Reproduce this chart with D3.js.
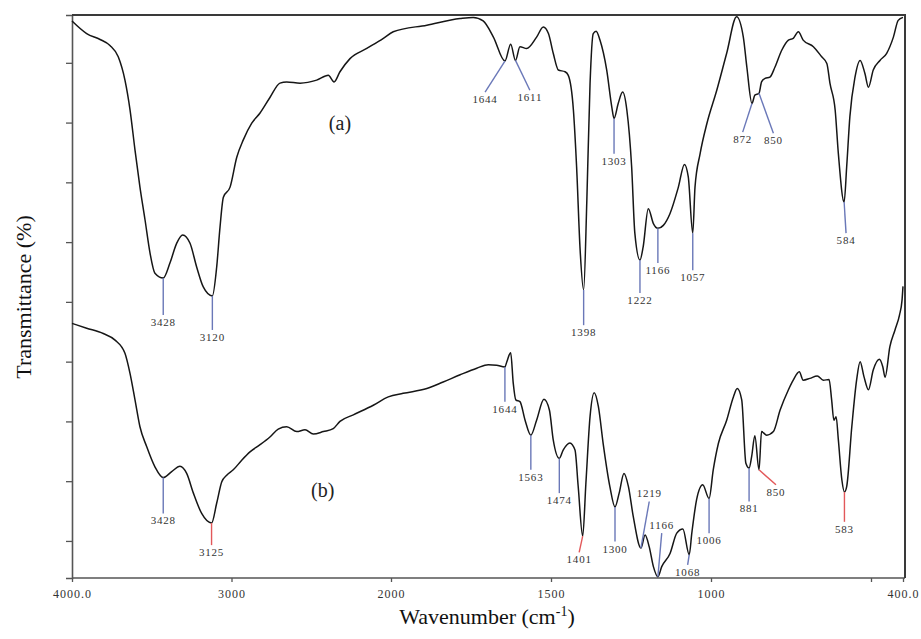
<!DOCTYPE html>
<html>
<head>
<meta charset="utf-8">
<script src="https://cdn.jsdelivr.net/npm/d3@7"></script>
<style>
  body { margin: 0; background: #fff; }
  svg { display: block; }
</style>
</head>
<body>
<svg id="chart"></svg>
<script>
// spectrum (a): [wavenumber cm-1, transmittance]
const specA = [
  [4000,97.0],[3908,94.9],[3824,93.9],[3762,92.9],[3710,91.0],[3668,87.1],[3636,82.1],[3605,75.4],
  [3574,69.2],[3542,63.7],[3511,58.2],[3480,54.8],[3428,54.0],[3386,56.5],[3344,59.8],[3306,61.2],
  [3260,59.8],[3218,55.8],[3177,52.5],[3120,51.0],[3093,55.8],[3072,62.5],[3051,67.5],[3009,69.2],
  [2967,74.2],[2926,77.1],[2873,79.9],[2821,81.6],[2759,84.2],[2696,86.6],[2654,86.8],[2570,86.6],
  [2466,87.1],[2393,87.9],[2357,86.8],[2320,88.5],[2257,90.7],[2152,92.4],[2048,94.1],[1993,95.2],
  [1888,96.3],[1784,97.4],[1743,97.6],[1712,97.0],[1680,94.3],[1644,90.3],[1626,93.1],[1611,90.4],
  [1597,92.7],[1576,92.4],[1545,94.3],[1524,96.0],[1508,94.9],[1493,91.6],[1477,88.8],[1456,88.5],
  [1446,87.9],[1430,82.1],[1420,72.6],[1409,58.7],[1398,52.0],[1388,67.0],[1378,86.5],[1368,94.9],
  [1359,95.3],[1347,93.8],[1326,88.8],[1310,82.6],[1303,80.7],[1290,83.2],[1276,85.1],[1263,82.1],
  [1248,72.6],[1238,61.5],[1222,57.0],[1212,59.2],[1196,65.6],[1180,63.1],[1166,62.3],[1149,62.8],
  [1128,64.8],[1102,69.2],[1083,73.0],[1071,70.9],[1057,61.5],[1050,69.2],[1034,74.8],[1013,79.8],
  [982,85.4],[951,91.6],[920,97.7],[899,94.3],[888,89.3],[872,83.2],[863,84.6],[850,84.9],
  [842,86.8],[831,87.4],[816,87.6],[800,89.3],[779,92.1],[758,93.8],[743,94.1],[727,95.2],
  [712,93.8],[680,92.7],[654,91.0],[638,89.9],[628,86.5],[612,82.1],[602,74.8],[584,66.7],
  [576,72.6],[566,81.0],[550,87.6],[534,90.4],[519,88.2],[508,85.9],[493,88.8],[472,90.4],
  [451,91.6],[430,94.3],[415,97.1],[400,97.6]
];

// spectrum (b)
const specB = [
  [4000,46.4],[3908,45.6],[3804,44.7],[3730,43.6],[3668,41.4],[3636,38.0],[3605,33.6],[3574,29.1],
  [3532,25.8],[3480,22.4],[3428,20.6],[3375,21.6],[3323,22.5],[3281,21.3],[3239,18.0],[3187,14.6],
  [3125,13.0],[3093,16.3],[3061,19.9],[3030,21.0],[2989,21.9],[2936,23.5],[2884,24.9],[2821,26.1],
  [2759,27.4],[2707,28.7],[2654,29.1],[2591,28.3],[2539,28.6],[2487,27.9],[2424,28.3],[2362,28.8],
  [2320,30.0],[2236,31.1],[2111,32.7],[2017,34.1],[1962,34.7],[1888,35.5],[1837,36.6],[1784,37.8],
  [1732,38.9],[1696,39.5],[1670,39.4],[1644,39.1],[1638,40.0],[1626,41.5],[1618,36.4],[1610,33.6],
  [1597,33.3],[1581,30.2],[1563,27.7],[1545,30.2],[1522,33.7],[1505,31.9],[1493,26.9],[1474,23.8],
  [1462,25.2],[1441,26.4],[1425,25.2],[1415,19.1],[1401,10.8],[1391,19.6],[1378,30.8],[1365,34.8],
  [1352,32.5],[1337,26.3],[1316,19.1],[1300,15.7],[1287,18.0],[1272,21.3],[1258,19.1],[1243,14.1],
  [1219,8.8],[1206,11.0],[1193,9.0],[1180,5.7],[1166,4.0],[1154,5.7],[1128,7.9],[1107,11.3],
  [1088,12.0],[1068,7.7],[1060,11.3],[1045,16.9],[1026,19.4],[1006,17.1],[993,21.9],[977,26.3],
  [951,30.2],[930,34.1],[918,35.5],[904,33.6],[891,23.0],[881,22.2],[873,24.1],[863,27.6],
  [850,21.9],[842,28.3],[826,27.7],[805,28.3],[784,31.9],[758,35.3],[743,36.9],[724,38.3],
  [712,36.9],[691,37.2],[668,37.6],[649,36.9],[631,37.0],[623,33.6],[616,30.2],[609,30.8],
  [602,26.9],[591,20.2],[583,18.2],[576,19.1],[560,29.1],[545,36.9],[534,40.0],[522,37.5],
  [508,35.3],[493,38.6],[474,40.4],[463,39.1],[456,37.4],[441,42.5],[425,45.3],[411,47.8],
  [403,50.3],[400,52.6]
];

// band labels: [label, wn on curve, T on curve, wn at leader end, T at leader end]
const bandsA = [
  ["3428",3428,54.0,3428,47.8],["3120",3120,51.0,3120,45.3],["1644",1644,90.3,1706,85.1],
  ["1611",1611,90.4,1566,85.4],["1398",1398,52.0,1398,46.1],["1303",1303,80.7,1303,74.8],
  ["1222",1222,57.0,1222,51.5],["1166",1166,62.3,1166,56.5],["1057",1057,61.5,1057,55.3],
  ["872",872,83.2,901,78.4],["850",850,84.9,805,78.2],["584",584,66.7,578,61.5]
];
const bandsB = [
  ["3428",3428,20.6,3428,14.6],["3125",3125,13.0,3125,9.3],["1644",1644,39.1,1644,33.3],
  ["1563",1563,27.7,1563,21.9],["1474",1474,23.8,1474,18.0],["1401",1401,10.8,1412,8.1],
  ["1300",1300,15.7,1300,9.9],["1219",1219,8.8,1193,16.6],["1166",1166,4.0,1154,11.3],
  ["1068",1068,7.7,1073,6.0],["1006",1006,17.1,1006,11.3],["881",881,22.2,881,16.6],
  ["850",850,21.9,797,19.4],["583",583,18.2,583,13.2]
];
const shiftedB = ["3125","1401","850","583"];

const curveNames = [["(a)",2320,79.9],["(b)",2428,18.5]];
const xTicks = [4000,3000,2000,1500,1000,500,400];
const yTicks = [10,20,30,40,50,60,70,80,90];

const W = 921, H = 639;
const svg = d3.select("#chart").attr("width", W).attr("height", H);
const serif = "'Liberation Serif','Times New Roman',serif";

// FTIR scale: compressed above 2000 cm-1
const x = d3.scaleLinear().domain([4000, 2000, 400]).range([72, 391, 903]);
const y = d3.scaleLinear().domain([3.8, 98.0]).range([578, 15]);

const xAxis = d3.axisBottom(x).tickValues(xTicks).tickSize(4).tickSizeOuter(0).tickPadding(7)
  .tickFormat(d => d === 4000 || d === 400 ? d.toFixed(1) : d === 500 ? "" : d);
const gx = svg.append("g").attr("transform", "translate(0,578)").call(xAxis);
gx.select(".domain").attr("stroke", "#555").attr("stroke-width", 1.6).attr("d", "M72,0H905");
gx.selectAll(".tick line").attr("stroke", "#555").attr("stroke-width", 1.3);
gx.selectAll(".tick text").attr("font-family", serif).attr("font-size", 12)
  .attr("letter-spacing", 1).attr("fill", "#333");

const gy = svg.append("g").attr("transform", "translate(72,0)")
  .call(d3.axisLeft(y).tickValues(yTicks).tickSize(6).tickSizeOuter(6).tickFormat(""));
gy.select(".domain").attr("stroke", "#555").attr("stroke-width", 1.6);
gy.selectAll(".tick line").attr("stroke", "#555").attr("stroke-width", 1.3);

// frame top and right
svg.append("path").attr("d", "M72,15H905V578").attr("fill", "none")
  .attr("stroke", "#3a3a3a").attr("stroke-width", 2);

const line = d3.line().x(d => x(d[0])).y(d => y(d[1])).curve(d3.curveMonotoneX);
[specA, specB].forEach(s => {
  svg.append("path").datum(s).attr("d", line).attr("fill", "none")
    .attr("stroke", "#161616").attr("stroke-width", 1.5).attr("stroke-linejoin", "round");
});

function drawBands(bands, red) {
  const g = svg.append("g");
  bands.forEach(b => {
    const col = red.includes(b[0]) ? "#e2585a" : "#6a78b8";
    g.append("line")
      .attr("x1", x(b[1])).attr("y1", y(b[2]))
      .attr("x2", x(b[3])).attr("y2", y(b[4]))
      .attr("stroke", col).attr("stroke-width", 1.4);
    const up = b[4] > b[2];
    g.append("text")
      .attr("x", x(b[3]))
      .attr("y", up ? y(b[4]) - 4 : y(b[4]) + 11)
      .attr("text-anchor", "middle")
      .attr("font-family", serif).attr("font-size", 11)
      .attr("letter-spacing", 0.8).attr("fill", "#333")
      .text(b[0]);
  });
}
drawBands(bandsA, []);
drawBands(bandsB, shiftedB);

svg.selectAll(".cname").data(curveNames).join("text")
  .attr("class", "cname")
  .attr("x", d => x(d[1])).attr("y", d => y(d[2]) + 7)
  .attr("text-anchor", "middle")
  .attr("font-family", serif).attr("font-size", 20).attr("fill", "#222")
  .text(d => d[0]);

// axis titles
const xt = svg.append("text").attr("x", 487).attr("y", 624)
  .attr("text-anchor", "middle").attr("font-family", serif)
  .attr("font-size", 22).attr("fill", "#111");
xt.append("tspan").text("Wavenumber (cm");
xt.append("tspan").attr("font-size", 14).attr("dy", -8).text("-1");
xt.append("tspan").attr("dy", 8).text(")");

svg.append("text")
  .attr("transform", "translate(31,297) rotate(-90)")
  .attr("text-anchor", "middle").attr("font-family", serif)
  .attr("font-size", 22).attr("fill", "#111")
  .text("Transmittance (%)");
</script>
</body>
</html>
